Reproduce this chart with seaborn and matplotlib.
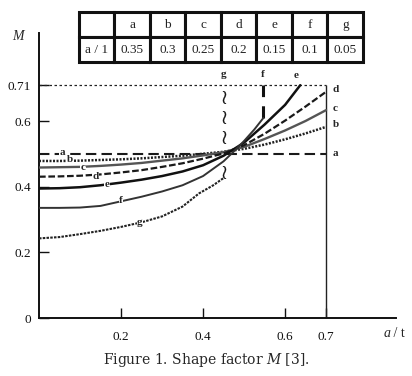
import numpy as np
import pandas as pd
import matplotlib
matplotlib.use("Agg")
import matplotlib.pyplot as plt
import seaborn as sns

# ---------------- data ----------------
a_x = [0.0, 0.1, 0.2, 0.3, 0.4, 0.5, 0.6, 0.7]
a_y = [0.5, 0.5, 0.5, 0.5, 0.5, 0.5, 0.5, 0.5]

b_x = [0.0, 0.05, 0.1, 0.15, 0.2, 0.25, 0.3, 0.35, 0.4, 0.45, 0.5, 0.55, 0.6, 0.65, 0.7]
b_y = [0.479, 0.479, 0.480, 0.482, 0.484, 0.487, 0.491, 0.495, 0.501, 0.507, 0.516, 0.529, 0.545, 0.563, 0.583]

c_x = [0.0, 0.05, 0.1, 0.15, 0.2, 0.25, 0.3, 0.35, 0.4, 0.45, 0.5, 0.55, 0.6, 0.65, 0.7]
c_y = [0.459, 0.460, 0.461, 0.464, 0.468, 0.473, 0.480, 0.487, 0.496, 0.506, 0.522, 0.546, 0.572, 0.601, 0.634]

d_x = [0.0, 0.05, 0.1, 0.15, 0.2, 0.25, 0.3, 0.35, 0.4, 0.45, 0.5, 0.55, 0.6, 0.65, 0.7]
d_y = [0.431, 0.432, 0.434, 0.438, 0.444, 0.451, 0.461, 0.472, 0.486, 0.502, 0.527, 0.562, 0.602, 0.645, 0.69]

e_x = [0.0, 0.05, 0.1, 0.15, 0.2, 0.25, 0.3, 0.35, 0.4, 0.45, 0.5, 0.55, 0.6, 0.637]
e_y = [0.395, 0.396, 0.399, 0.405, 0.413, 0.422, 0.433, 0.447, 0.466, 0.495, 0.535, 0.59, 0.65, 0.71]

f_x = [0.0, 0.05, 0.1, 0.15, 0.2, 0.25, 0.3, 0.35, 0.4, 0.45, 0.475, 0.5, 0.525, 0.547]
f_y = [0.336, 0.336, 0.337, 0.342, 0.356, 0.370, 0.386, 0.405, 0.433, 0.478, 0.508, 0.540, 0.575, 0.61]
f_asym_x = [0.547, 0.547]
f_asym_y = [0.61, 0.71]

g_x = [0.0, 0.05, 0.1, 0.15, 0.2, 0.25, 0.3, 0.35, 0.39, 0.425, 0.45]
g_y = [0.243, 0.247, 0.256, 0.266, 0.278, 0.292, 0.31, 0.34, 0.38, 0.405, 0.427]
g_asym_x = [0.45, 0.45, 0.45, 0.45]
g_asym_y = [0.446, 0.553, 0.614, 0.675]

M_max = 0.71
at_max = 0.7

x_ticks = [0.2, 0.4, 0.6, 0.7]
y_ticks = [0, 0.2, 0.4, 0.6, 0.71]
y_tick_labels = ["0", "0.2", "0.4", "0.6", "0.71"]

table_header = ["", "a", "b", "c", "d", "e", "f", "g"]
table_row = ["a / 1", "0.35", "0.3", "0.25", "0.2", "0.15", "0.1", "0.05"]

# ---------------- style ----------------
sns.set_theme(style="white")
plt.rcParams["font.family"] = ["Liberation Serif", "DejaVu Serif"]
plt.rcParams["mathtext.fontset"] = "custom"
plt.rcParams["mathtext.rm"] = "DejaVu Serif"
plt.rcParams["mathtext.it"] = "DejaVu Serif:italic"

fig = plt.figure(figsize=(4.12, 3.76), dpi=100)
ax = fig.add_axes([0.0947, 0.154, 0.866, 0.759])

series = [
    ("a", a_x, a_y, dict(color="#1a1a1a", lw=1.5, linestyle=(0, (5, 2.5)))),
    ("b", b_x, b_y, dict(color="#222222", lw=1.8, linestyle=(0, (0.8, 0.6)))),
    ("c", c_x, c_y, dict(color="#555555", lw=1.7, linestyle="-")),
    ("d", d_x, d_y, dict(color="#1a1a1a", lw=1.6, linestyle=(0, (3, 1.2)))),
    ("e", e_x, e_y, dict(color="#111111", lw=1.8, linestyle="-")),
    ("f", f_x, f_y, dict(color="#333333", lw=1.4, linestyle="-")),
    ("g", g_x, g_y, dict(color="#222222", lw=1.5, linestyle=(0, (1.2, 0.6)))),
]
for name, xs, ys, kw in series:
    sns.lineplot(x=xs, y=ys, ax=ax, estimator=None, sort=False, zorder=3, **kw)

sns.lineplot(x=f_asym_x, y=f_asym_y, ax=ax, estimator=None, sort=False,
             color="#111111", lw=2.2, linestyle=(0, (4, 3)))
sns.scatterplot(x=g_asym_x, y=g_asym_y, ax=ax, marker=r"$\wr$", s=80,
                color="#111111", linewidth=0.3, edgecolor="#111111")

# reference lines
ax.hlines(M_max, 0, at_max, colors="#222222", linestyles=(0, (2, 2)), lw=0.9)
ax.vlines(at_max, 0, M_max, colors="#222222", lw=1.0)

# inline labels
lab_kw = dict(fontsize=8, fontweight="bold", ha="center", va="center", zorder=6,
              bbox=dict(facecolor="white", edgecolor="none", pad=0.3))
inline = [("a", 0.056, 0.504), ("b", 0.076, 0.482), ("c", 0.107, 0.458),
          ("d", 0.137, 0.433), ("e", 0.166, 0.408), ("f", 0.2, 0.358),
          ("g", 0.246, 0.29)]
for t, x, y in inline:
    ax.text(x, y, t, **lab_kw)
right_lab = [("d", 0.716, 0.698), ("c", 0.716, 0.64), ("b", 0.716, 0.59), ("a", 0.716, 0.503)]
for t, x, y in right_lab:
    ax.text(x, y, t, fontsize=8, fontweight="bold", ha="left", va="center")
top_lab = [("g", 0.451, 0.742), ("f", 0.546, 0.742), ("e", 0.627, 0.739)]
for t, x, y in top_lab:
    ax.text(x, y, t, fontsize=8, fontweight="bold", ha="center", va="center")

# axes
ax.set_xlim(0, 0.87)
ax.set_ylim(0, 0.87)
ax.set_xticks(x_ticks)
ax.set_xticklabels([str(v) for v in x_ticks])
ax.set_yticks(y_ticks)
ax.set_yticklabels(y_tick_labels)
ax.tick_params(axis="both", direction="in", length=7, width=1.0, labelsize=9.5,
               colors="#111111", left=True, bottom=True)
ax.tick_params(axis="x", pad=9)
ax.tick_params(axis="y", pad=6)
for s in ["top", "right"]:
    ax.spines[s].set_visible(False)
for s in ["left", "bottom"]:
    ax.spines[s].set_color("#111111")
    ax.spines[s].set_linewidth(1.4)
ax.set_xlabel("")
ax.set_ylabel("")

ax.text(-0.059, 0.985, "M", transform=ax.transAxes, fontsize=10, fontstyle="italic",
        ha="center", va="center")
ax.text(0.985, -0.053, "a", transform=ax.transAxes, fontsize=10, fontstyle="italic",
        ha="right", va="center")
ax.text(0.985, -0.053, " / t", transform=ax.transAxes, fontsize=10,
        ha="left", va="center")

# table
tbl = ax.table(cellText=[table_header, table_row], cellLoc="center",
               bbox=[0.112, 0.897, 0.796, 0.175])
tbl.auto_set_font_size(False)
tbl.set_fontsize(9.5)
for (r, c), cell in tbl.get_celld().items():
    cell.set_linewidth(2.2)
    cell.set_edgecolor("#111111")
    cell.set_clip_on(False)
    cell.get_text().set_color("#222222")

fig.text(0.5, 0.043, "Figure 1. Shape factor $M$ [3].", ha="center", va="center",
         fontsize=10, family="DejaVu Serif")

fig.savefig("out.png", dpi=100)
